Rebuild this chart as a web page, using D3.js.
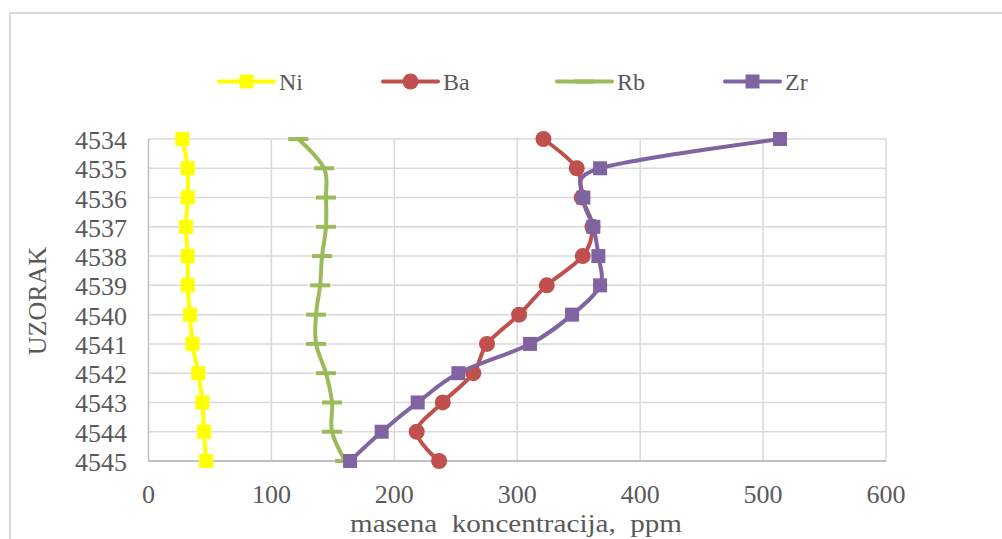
<!DOCTYPE html>
<html><head><meta charset="utf-8">
<script src="https://cdn.jsdelivr.net/npm/d3@7"></script>
<style>
html,body{margin:0;padding:0;background:#fff;}
svg text{font-family:'Liberation Serif','DejaVu Serif','Times New Roman',Times,serif;fill:#595959;}
</style></head>
<body>
<svg id="c" width="1002" height="539"></svg>
<script>
const samples = ["4534","4535","4536","4537","4538","4539","4540","4541","4542","4543","4544","4545"];
const ni = [27.5, 31.9, 31.9, 30.5, 31.9, 31.9, 33.8, 35.7, 40.5, 43.8, 45.2, 46.8];
const ba = [321.3, 348.4, 352.5, 361.2, 353.3, 324, 301.5, 275.4, 264.3, 239.4, 218.2, 236.4];
const rb = [121.9, 142.8, 144.4, 144.4, 141.2, 139.6, 136.3, 136.3, 144.4, 149.3, 149.3, 160];
const zr = [513.8, 367.4, 353.8, 361.9, 366, 367.4, 344.6, 310.4, 252.1, 219, 189.7, 164];
const xTicks = [0, 100, 200, 300, 400, 500, 600];
const seriesNames = ["Ni", "Ba", "Rb", "Zr"];

const series = [
  {name: seriesNames[0], values: ni, color: "#FFFF00", marker: "square"},
  {name: seriesNames[1], values: ba, color: "#C0504D", marker: "circle"},
  {name: seriesNames[2], values: rb, color: "#9BBB59", marker: "dash"},
  {name: seriesNames[3], values: zr, color: "#8064A2", marker: "square"}
];

const FONT = "'Liberation Serif','DejaVu Serif','Times New Roman',serif";
const svg = d3.select("#c");
const L = 148.5, R = 886, T = 139, B = 461;
const x = d3.scaleLinear().domain([0, 600]).range([L, R]);
const y = d3.scalePoint().domain(samples).range([T, B]);

svg.append("path").attr("d", "M10,539 L10,13 L1002,13")
  .attr("fill", "none").attr("stroke", "#d9d9d9").attr("stroke-width", 2);

svg.append("g").selectAll("line").data(samples).join("line")
  .attr("x1", L).attr("x2", R).attr("y1", d => y(d)).attr("y2", d => y(d))
  .attr("stroke", "#d9d9d9").attr("stroke-width", 1.5);
svg.append("g").selectAll("line").data(xTicks.slice(1)).join("line")
  .attr("x1", d => x(d)).attr("x2", d => x(d)).attr("y1", T).attr("y2", B)
  .attr("stroke", "#d9d9d9").attr("stroke-width", 1.5);
svg.append("line").attr("x1", L).attr("x2", L).attr("y1", T).attr("y2", B)
  .attr("stroke", "#bfbfbf").attr("stroke-width", 1.5);
svg.append("line").attr("x1", L).attr("x2", R).attr("y1", B).attr("y2", B)
  .attr("stroke", "#bfbfbf").attr("stroke-width", 2);

svg.append("g").selectAll("text").data(samples).join("text")
  .attr("x", 127).attr("y", d => y(d) + 10).attr("text-anchor", "end")
  .attr("font-family", FONT).attr("font-size", 26).text(d => d);
svg.append("g").selectAll("text").data(xTicks).join("text")
  .attr("x", d => x(d)).attr("y", 503).attr("text-anchor", "middle")
  .attr("font-family", FONT).attr("font-size", 26).text(d => d);

svg.append("text").attr("x", 350).attr("y", 531.5)
  .attr("font-family", FONT).attr("font-size", 26).attr("xml:space", "preserve")
  .attr("textLength", 332).attr("lengthAdjust", "spacingAndGlyphs")
  .text("masena  koncentracija,  ppm");
svg.append("text").attr("transform", "translate(46,301) rotate(-90)")
  .attr("text-anchor", "middle").attr("font-family", FONT).attr("font-size", 26)
  .text("UZORAK");

const line = d3.line()
  .x(d => x(d.v)).y(d => y(d.s))
  .curve(d3.curveCardinal.tension(0));

function drawMarker(g, type, cx, cy, color) {
  if (type === "square") {
    g.append("rect").attr("x", cx - 7).attr("y", cy - 7).attr("width", 14).attr("height", 14).attr("fill", color);
  } else if (type === "circle") {
    g.append("circle").attr("cx", cx).attr("cy", cy).attr("r", 8).attr("fill", color);
  } else {
    g.append("rect").attr("x", cx - 10).attr("y", cy - 2).attr("width", 20).attr("height", 4).attr("fill", color);
  }
}

series.forEach(s => {
  const pts = s.values.map((v, i) => ({v, s: samples[i]}));
  const g = svg.append("g");
  g.append("path").attr("d", line(pts)).attr("fill", "none")
    .attr("stroke", s.color).attr("stroke-width", 4).attr("stroke-linejoin", "round").attr("stroke-linecap", "round");
  pts.forEach(p => drawMarker(g, s.marker, x(p.v), y(p.s), s.color));
});

const legX = [219, 383, 557, 725];
series.forEach((s, i) => {
  const g = svg.append("g");
  const ly = 81.5;
  g.append("line").attr("x1", legX[i]).attr("x2", legX[i] + 55).attr("y1", ly).attr("y2", ly)
    .attr("stroke", s.color).attr("stroke-width", 4).attr("stroke-linecap", "round");
  drawMarker(g, s.marker, legX[i] + 27.5, ly, s.color);
  g.append("text").attr("x", legX[i] + 60).attr("y", ly + 8.5).attr("font-family", FONT).attr("font-size", 24).text(s.name);
});
</script>
</body></html>
